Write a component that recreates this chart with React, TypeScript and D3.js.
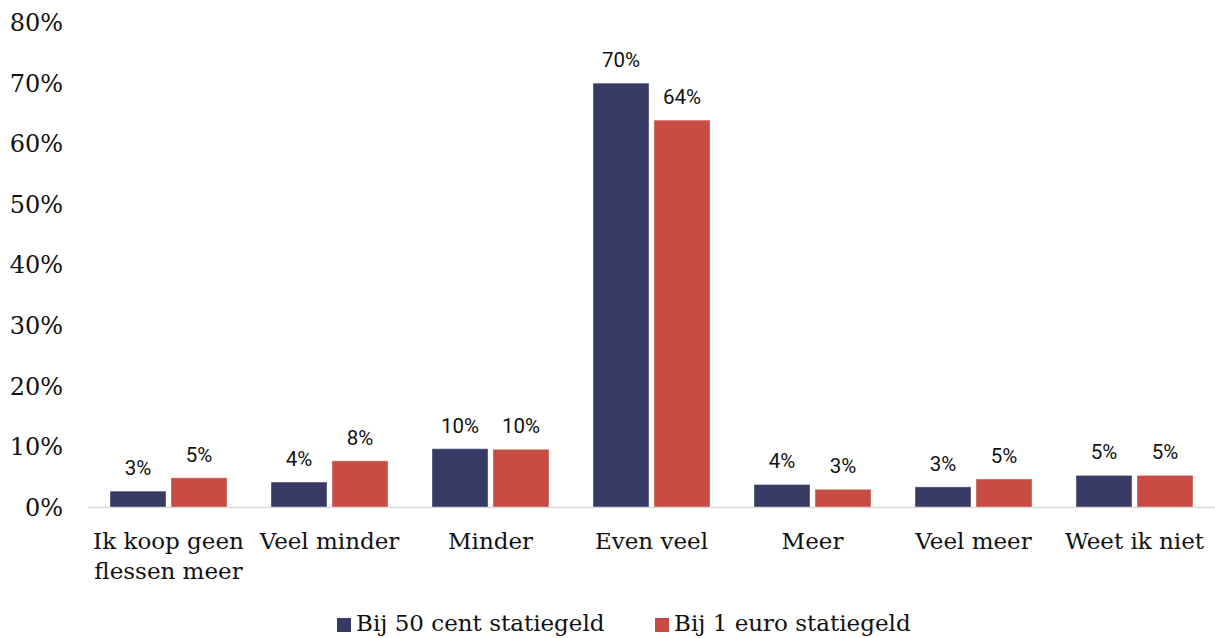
import * as d3 from "d3";
import { useEffect, useRef } from "react";

// categories (x axis), multi-line labels split with "\n"
const categories = [
  "Ik koop geen\nflessen meer",
  "Veel minder",
  "Minder",
  "Even veel",
  "Meer",
  "Veel meer",
  "Weet ik niet",
];

const seriesNames = ["Bij 50 cent statiegeld", "Bij 1 euro statiegeld"];
const seriesColors = ["#383a66", "#c94c44"];

// values (fractions)
const cent50 = [0.027, 0.042, 0.097, 0.70, 0.038, 0.034, 0.053];
const euro1 = [0.049, 0.077, 0.096, 0.639, 0.030, 0.047, 0.053];
// the printed labels
const cent50Labels = ["3%", "4%", "10%", "70%", "4%", "3%", "5%"];
const euro1Labels = ["5%", "8%", "10%", "64%", "3%", "5%", "5%"];

const yTicks = [0, 0.1, 0.2, 0.3, 0.4, 0.5, 0.6, 0.7, 0.8];

const W = 1215, H = 638;
const serif = "'DejaVu Serif', serif";
const sans = "Roboto, 'Open Sans', sans-serif";

const App = () => {
  const ref: any = useRef();

  useEffect(() => {
    const svg = d3.select(ref.current);
    svg.selectAll("*").remove();

    const y = d3.scaleLinear().domain([0, 0.8]).range([507.5, 22.5]);
    const x0 = d3.scaleBand().domain(categories).range([88, 1215]).padding(0);
    const x1 = d3.scaleBand().domain(seriesNames).range([22, 139]).paddingInner(0.082);

    // y axis labels
    svg.append("g")
      .selectAll("text")
      .data(yTicks)
      .join("text")
        .attr("x", 63)
        .attr("y", d => y(d))
        .attr("dy", "0.35em")
        .attr("text-anchor", "end")
        .attr("font-family", serif)
        .attr("font-size", 24)
        .attr("fill", "#111")
        .text(d => d3.format(".0%")(d));

    const series = [
      { name: seriesNames[0], values: cent50, labels: cent50Labels, color: seriesColors[0] },
      { name: seriesNames[1], values: euro1, labels: euro1Labels, color: seriesColors[1] },
    ];

    const groups = svg.append("g")
      .selectAll("g")
      .data(categories)
      .join("g")
        .attr("transform", d => `translate(${x0(d)},0)`);

    groups.each(function (cat, i) {
      const g = d3.select(this);
      series.forEach(s => {
        g.append("rect")
          .attr("x", x1(s.name)!)
          .attr("y", y(s.values[i]))
          .attr("width", x1.bandwidth())
          .attr("height", y(0) - y(s.values[i]))
          .attr("fill", s.color)
          .attr("stroke", "#ffffff")
          .attr("stroke-opacity", 0.4)
          .attr("stroke-width", 1);
        g.append("text")
          .attr("x", x1(s.name)! + x1.bandwidth() / 2)
          .attr("y", y(s.values[i]) - 16)
          .attr("text-anchor", "middle")
          .attr("font-family", sans)
          .attr("font-size", 20.5)
          .attr("fill", "#111")
          .text(s.labels[i]);
      });
      // category label
      const lines = cat.split("\n");
      g.append("text")
        .attr("x", x0.bandwidth() / 2)
        .attr("y", 549)
        .attr("text-anchor", "middle")
        .attr("font-family", serif)
        .attr("font-size", 23)
        .attr("fill", "#111")
        .selectAll("tspan")
        .data(lines)
        .join("tspan")
          .attr("x", x0.bandwidth() / 2)
          .attr("dy", (_d, k) => (k === 0 ? 0 : 30))
          .text(d => d);
    });

    // baseline
    svg.append("line")
      .attr("x1", 88)
      .attr("x2", 1215)
      .attr("y1", y(0))
      .attr("y2", y(0))
      .attr("stroke", "#d9d9d9")
      .attr("stroke-width", 1.5);

    // legend
    const legendX = [337, 655];
    const legend = svg.append("g")
      .selectAll("g")
      .data(seriesNames)
      .join("g")
        .attr("transform", (_d, i) => `translate(${legendX[i]},0)`);
    legend.append("rect")
      .attr("x", 0)
      .attr("y", 618)
      .attr("width", 14)
      .attr("height", 14)
      .attr("fill", (_d, i) => seriesColors[i]);
    legend.append("text")
      .attr("x", 19)
      .attr("y", 631)
      .attr("font-family", serif)
      .attr("font-size", 23)
      .attr("fill", "#111")
      .text(d => d);
  }, []);

  return (
    <svg
      ref={ref}
      width={W}
      height={H}
      style={{ position: "absolute", left: 0, top: 0, background: "#fff" }}
    />
  );
};

export default App;
